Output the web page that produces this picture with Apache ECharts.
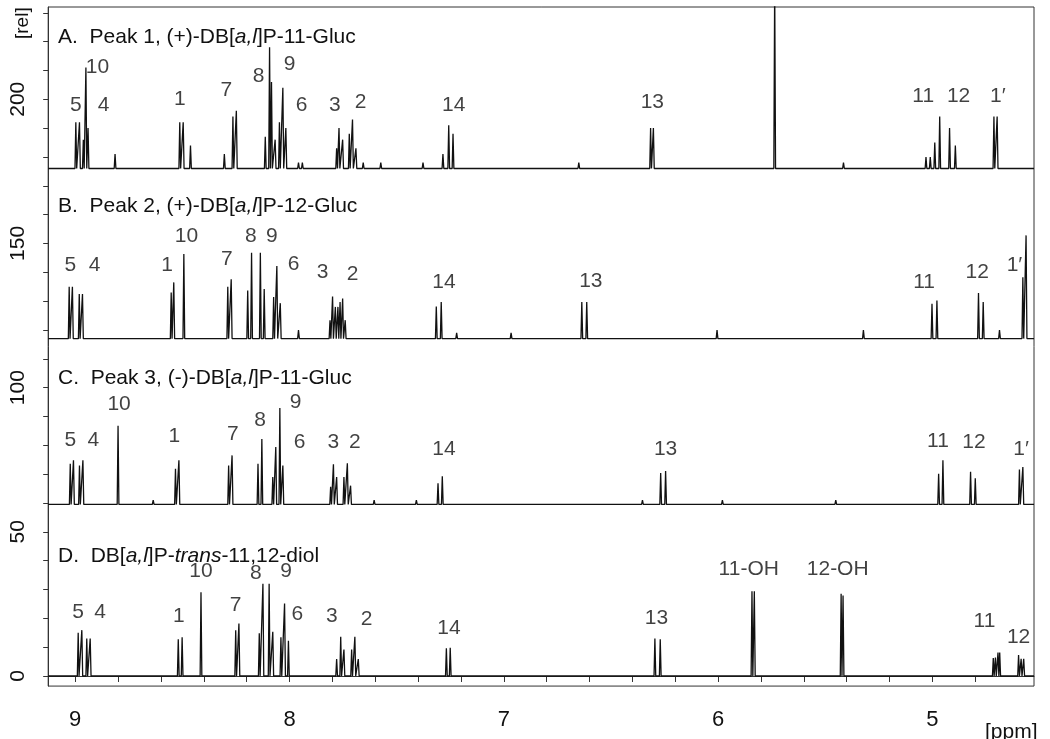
<!doctype html>
<html>
<head>
    <title>NMR spectra</title>
    <script src="https://cdn.jsdelivr.net/npm/echarts@6/dist/echarts.min.js"></script>
</head>
<style>
    html, body { margin: 0; padding: 0; background: #fff; }
    #chart { width: 1050px; height: 739px; }
</style>
<body>
<div id="chart"></div>
<script>
  // axis range (ppm, drawn right to left) and relative intensity
  var ppmMin = 4.526, ppmMax = 9.126;
  var relMin = -3.5, relMax = 232;
  var xTicks = [4.8, 5, 5.2, 5.4, 5.6, 5.8, 6, 6.2, 6.4, 6.6, 6.8, 7, 7.2, 7.4, 7.6, 7.8, 8, 8.2, 8.4, 8.6, 8.8, 9];
  var xLabels = [5, 6, 7, 8, 9];
  var yTicks = [0, 10, 20, 30, 40, 50, 60, 70, 80, 90, 100, 110, 120, 130, 140, 150, 160, 170, 180, 190, 200, 210, 220, 230];
  var yLabels = [0, 50, 100, 150, 200];

  // baselines of the four stacked traces
  var baseA = 176, baseB = 117, baseC = 59.5, baseD = 0;

  // peaks: [ppm, height]
  var peaksA = [[8.997,192],[8.98,192],[8.962,186],[8.95,211],[8.94,190],[8.814,181],[8.512,192],[8.496,192],[8.462,184],
    [8.304,181],[8.264,194],[8.248,196],[8.113,187],[8.093,218],[8.084,206],[8.067,186],[8.047,192],[8.031,204],[8.017,190],
    [7.958,178],[7.94,178],[7.78,183],[7.769,190],[7.752,186],[7.721,188],[7.706,193],[7.69,183],[7.656,178],[7.574,178],
    [7.377,178],[7.284,181],[7.257,191],[7.237,188],[6.65,178],[6.315,190],[6.302,190],[5.736,240],[5.415,178],
    [5.03,180],[5.01,180],[4.989,185],[4.966,194],[4.92,190],[4.893,184],[4.713,194],[4.698,194]];
  var peaksB = [[9.028,135],[9.013,135],[8.981,132.5],[8.966,132.5],[8.552,133],[8.54,136.5],[8.493,146.3],[8.288,135],
    [8.272,137.6],[8.195,133.7],[8.177,146.8],[8.136,146.8],[8.118,134.2],[8.074,131.4],[8.059,142.2],[8.043,129.3],
    [7.958,120],[7.811,123.4],[7.799,131.6],[7.786,128],[7.774,128],[7.764,129.7],[7.752,130.9],[7.74,123.4],
    [7.315,128.1],[7.292,129.7],[7.22,119],[6.966,119],[6.636,129.7],[6.613,129.7],[6.005,120],[5.322,120],
    [5.002,129.1],[4.979,130.2],[4.785,132.8],[4.763,129.7],[4.687,120],[4.578,138.3],[4.563,152.8]];
  var peaksC = [[9.023,73.6],[9.008,74.8],[8.98,73],[8.964,74.8],[8.8,86.8],[8.636,61],[8.532,71.9],[8.516,74.8],
    [8.284,73],[8.268,76.5],[8.147,73.6],[8.129,82.2],[8.078,69],[8.064,79.4],[8.045,92.9],[8.031,73],[7.808,65.6],
    [7.795,73.4],[7.78,69],[7.746,69],[7.73,73.8],[7.715,66],[7.605,61],[7.408,61],[7.307,66.8],[7.287,69.3],
    [6.353,61],[6.268,70.4],[6.245,71.1],[5.98,61],[5.451,61],[4.971,70.1],[4.951,74.8],[4.822,70.8],[4.8,68.6],
    [4.594,71.6],[4.578,72.5]];
  var peaksD = [[8.986,15],[8.969,15.9],[8.946,13],[8.93,13],[8.519,12.7],[8.501,13.4],[8.413,29],[8.251,15.9],
    [8.236,18.2],[8.141,14.8],[8.124,32],[8.095,32],[8.078,15.3],[8.04,13.4],[8.023,25.1],[8.005,12.2],[7.78,5.9],
    [7.761,13.6],[7.746,9.2],[7.71,9.2],[7.695,13.6],[7.679,5.9],[7.268,9.6],[7.25,9.8],[6.295,13],[6.27,12.7],
    [5.842,29.4],[5.831,29.4],[5.426,28.5],[5.417,27.9],[4.716,6.2],[4.706,6.4],[4.694,8.1],[4.686,8.1],
    [4.598,7.3],[4.586,6],[4.574,6]];

  // peak assignments: [text, ppm, rel]
  var labelsA = [['5',8.997,198],['10',8.896,211],['4',8.868,198],['1',8.512,200],['7',8.295,203],['8',8.144,208],
    ['9',8.0,212],['6',7.943,198],['3',7.788,198],['2',7.668,199],['14',7.234,198],['13',6.307,199],
    ['11',5.043,201],['12',4.878,201],['1\u2032',4.695,201]];
  var labelsB = [['5',9.023,142.6],['4',8.909,142.6],['1',8.571,142.6],['10',8.481,152.5],['7',8.292,144.6],
    ['8',8.18,152.5],['9',8.082,152.5],['6',7.981,142.8],['3',7.845,140],['2',7.706,139.4],['14',7.279,136.5],
    ['13',6.594,136.9],['11',5.039,136.5],['12',4.791,140],['1\u2032',4.617,142.6]];
  var labelsC = [['5',9.023,81.6],['4',8.915,81.6],['10',8.795,94.2],['1',8.537,83],['7',8.264,83.9],['8',8.137,88.7],
    ['9',7.971,94.8],['6',7.953,81],['3',7.795,81],['2',7.695,81],['14',7.279,78.5],['13',6.245,78.5],
    ['11',4.974,81.4],['12',4.806,81],['1\u2032',4.586,78.5]];
  var labelsD = [['5',8.986,22.2],['4',8.884,22.2],['10',8.413,36.2],['1',8.516,20.6],['7',8.251,24.5],
    ['8',8.157,35.5],['9',8.016,36.2],['6',7.963,21.6],['3',7.803,20.6],['2',7.64,19.6],['14',7.256,16.5],
    ['13',6.288,19.9],['11-OH',5.857,37],['12-OH',5.442,37],['11',4.757,19.1],['12',4.598,13.6]];

  var font = '"Liberation Sans", Arial, sans-serif';
  var ink = '#111';

  // trace = flat baseline with a narrow spike at every peak
  function trace(base, peaks) {
    var hw = 0.004;
    var pts = [[ppmMax, base]];
    peaks.slice().sort(function (a, b) { return b[0] - a[0]; }).forEach(function (p) {
      pts.push([p[0] + hw, base], [p[0], p[1]], [p[0] - hw, base]);
    });
    pts.push([ppmMin, base]);
    return pts;
  }

  function lineSeries(base, peaks) {
    return {
      type: 'line', data: trace(base, peaks), showSymbol: false, clip: true,
      lineStyle: { color: ink, width: 1.3 }, silent: true
    };
  }

  function labelSeries(list) {
    return {
      type: 'scatter', symbolSize: 1, silent: true,
      itemStyle: { color: 'rgba(0,0,0,0)' },
      data: list.map(function (l) { return { name: l[0], value: [l[1], l[2]] }; }),
      label: {
        show: true, position: 'inside', formatter: '{b}',
        fontFamily: font, fontSize: 21, color: ink
      }
    };
  }

  function heading(y, parts) {
    var st = { fontFamily: font, fontSize: 21, fill: ink };
    return {
      type: 'text', left: 58, top: y,
      style: { rich: { n: st, i: { fontFamily: font, fontSize: 21, fontStyle: 'italic', fill: ink } },
        text: parts, fill: ink, fontFamily: font, fontSize: 21 }
    };
  }

  var chart = echarts.init(document.getElementById('chart'));
  var option = {
    animation: false,
    backgroundColor: '#fff',
    grid: { left: 44, top: 7, right: 16, bottom: 46, show: true, borderColor: '#333', borderWidth: 1 },
    xAxis: {
      type: 'value', inverse: true, min: ppmMin, max: ppmMax,
      splitLine: { show: false },
      axisLine: { lineStyle: { color: '#333' } },
      axisTick: { customValues: xTicks, length: 6, lineStyle: { color: '#333' } },
      axisLabel: { customValues: xLabels, margin: 15, fontFamily: font, fontSize: 22, color: ink }
    },
    yAxis: {
      type: 'value', min: relMin, max: relMax,
      splitLine: { show: false },
      axisLine: { show: true, lineStyle: { color: '#333' } },
      axisTick: { show: true, customValues: yTicks, length: 5, lineStyle: { color: '#333' } },
      axisLabel: { customValues: yLabels, rotate: 90, margin: 12, fontFamily: font, fontSize: 21, color: ink }
    },
    graphic: [
      heading(19, '{n|A.  Peak 1, (+)-DB[}{i|a,l}{n|]P-11-Gluc}'),
      heading(188, '{n|B.  Peak 2, (+)-DB[}{i|a,l}{n|]P-12-Gluc}'),
      heading(360, '{n|C.  Peak 3, (-)-DB[}{i|a,l}{n|]P-11-Gluc}'),
      heading(538, '{n|D.  DB[}{i|a,l}{n|]P-}{i|trans}{n|-11,12-diol}'),
      { type: 'text', x: 6, y: 39, rotation: Math.PI / 2,
        style: { text: '[rel]', fontFamily: font, fontSize: 19, fill: ink } },
      { type: 'text', left: 985, top: 714, style: { text: '[ppm]', fontFamily: font, fontSize: 21, fill: ink } }
    ],
    series: [
      lineSeries(baseA, peaksA), lineSeries(baseB, peaksB), lineSeries(baseC, peaksC), lineSeries(baseD, peaksD),
      labelSeries(labelsA), labelSeries(labelsB), labelSeries(labelsC), labelSeries(labelsD)
    ]
  };
  chart.setOption(option);
</script>
</body>
</html>
